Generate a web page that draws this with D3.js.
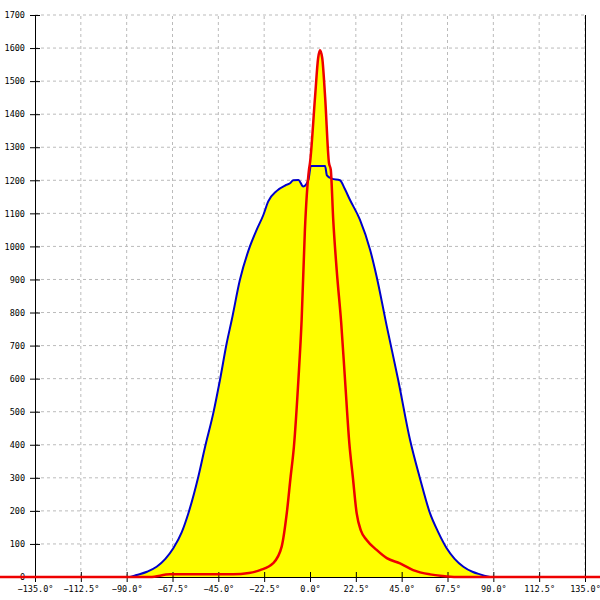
<!DOCTYPE html>
<html><head><meta charset="utf-8">
<script src="https://cdn.jsdelivr.net/npm/d3@7"></script>
<style>body{margin:0;background:#fff}svg{display:block}</style>
</head><body>
<svg id="c" width="600" height="600"></svg>
<script>
const xTicks = [-135, -112.5, -90, -67.5, -45, -22.5, 0, 22.5, 45, 67.5, 90, 112.5, 135];
const yTicks = [0,100,200,300,400,500,600,700,800,900,1000,1100,1200,1300,1400,1500,1600,1700];

const blueDeg = [-89.8,-88.4,-85.1,-80,-75.3,-71,-67.1,-63,-59.7,-54.8,-51.5,-47.5,-44.2,-40.9,-38.4,-34.4,-29.5,-26.2,-22.9,-20.5,-16.3,-12,-9.8,-8.2,-5.7,-3.3,-0.8,0,0.3,7.4,8.3,10.7,14.7,17,19.6,24.5,29.5,32.7,37.7,43.3,49.1,54.0,58.9,63,67.1,71,75.3,80,83.5,88.4];
const blueVal = [0,0,6,16,31,55,87,135,193,304,394,495,596,707,778,899,1000,1050,1095,1136,1168,1185,1191,1200,1201,1181,1201,1232,1243,1243,1215,1205,1200,1175,1141,1081,990,909,758,596,415,298,193,135,87,55,31,15,8,0];

const redDeg = [-180,-78.5,-68.7,-37.8,-30,-24.5,-18.2,-13.9,-11.4,-9.5,-7.9,-5.7,-4.1,-2.5,-0.5,0,2.5,4,4.9,6,7.4,9.3,10.2,11.4,13.1,15.3,17.2,19.3,21.0,22.9,25,27.8,32.7,37.7,44.2,50.6,58.9,65,72.0,180];
const redVal = [0,0,8,8,12,21,41,92,193,304,394,596,778,1050,1232,1253,1454,1570,1593,1570,1454,1253,1232,1081,929,770,596,405,304,193,140,112,82,57,41,21,8,3,0,0];

const svg = d3.select('#c');
const x = d3.scaleLinear().domain([-135,135]).range([35,585]);
const y = d3.scaleLinear().domain([0,1700]).range([577,15]);

// grid
svg.append('g').selectAll('line').data(xTicks.slice(1)).join('line')
  .attr('x1',d=>x(d)).attr('x2',d=>x(d)).attr('y1',y(0)).attr('y2',y(1700))
  .attr('stroke','#bbb').attr('stroke-dasharray','3,3');
svg.append('g').selectAll('line').data(yTicks.slice(1)).join('line')
  .attr('x1',x(-135)).attr('x2',x(135)).attr('y1',d=>y(d)).attr('y2',d=>y(d))
  .attr('stroke','#bbb').attr('stroke-dasharray','3,3');

const blue = blueDeg.map((d,i)=>[d,blueVal[i]]);
const red = redDeg.map((d,i)=>[d,redVal[i]]);
const area = d3.area().x(d=>x(d[0])).y0(y(0)).y1(d=>y(d[1])).curve(d3.curveMonotoneX);
const line = d3.line().x(d=>x(d[0])).y(d=>y(d[1])).curve(d3.curveMonotoneX);

svg.append('path').datum(blue).attr('d',area).attr('fill','#ffff00');
svg.append('path').datum(red).attr('d',area).attr('fill','#ffff00');

// axes
const yAxis = d3.axisLeft(y).tickValues(yTicks).tickSize(5).tickFormat(d3.format('d'));
const gy = svg.append('g').attr('transform','translate(35,0)').call(yAxis);
gy.select('.domain').attr('stroke','#000');
gy.selectAll('.tick line').attr('x1',5).attr('x2',-5);
gy.selectAll('.tick text').attr('x',-10).attr('font-family','DejaVu Sans Mono').attr('font-size','8.5px').attr('fill','#000');

const xAxis = d3.axisBottom(x).tickValues(xTicks).tickSize(5).tickFormat(d=>d3.format('.1f')(d)+'°');
const gx = svg.append('g').attr('transform','translate(0,577)').call(xAxis);
gx.select('.domain').attr('stroke','#000');
gx.selectAll('.tick line').attr('y1',-5).attr('y2',5);
gx.selectAll('.tick text').attr('y',9).attr('font-family','DejaVu Sans Mono').attr('font-size','8.5px').attr('fill','#000');

svg.append('line').attr('x1',x(135)+0.5).attr('x2',x(135)+0.5).attr('y1',y(0)).attr('y2',y(1700)).attr('stroke','#000');

svg.append('path').datum(blue).attr('d',line).attr('fill','none').attr('stroke','#0000cc').attr('stroke-width',2);
svg.append('path').datum(red).attr('d',line).attr('fill','none').attr('stroke','#ee0000').attr('stroke-width',2.5);
</script>
</body></html>
